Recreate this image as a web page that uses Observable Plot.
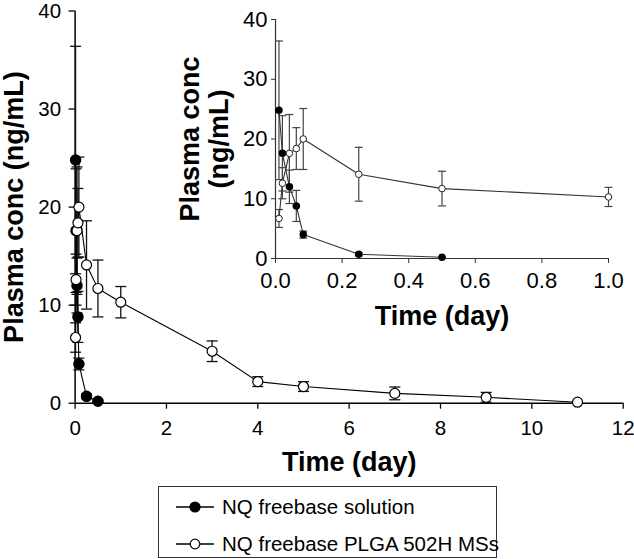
<!DOCTYPE html>
<html>
<head>
<meta charset="utf-8">
<script src="https://cdn.jsdelivr.net/npm/d3@7"></script>
<script src="https://cdn.jsdelivr.net/npm/@observablehq/plot@0.6"></script>
<style>
  body { margin: 0; background: #fff; font-family: "Liberation Sans", Arial, sans-serif; }
  #wrap { position: relative; width: 634px; height: 559px; overflow: hidden; background: #fff; }
  #main { position: absolute; left: 0; top: 0; }
  #inset { position: absolute; left: 180px; top: 0; }
  #legend { position: absolute; left: 158px; top: 486px; width: 339px; height: 72px;
            border: 1.5px solid #333; box-sizing: border-box; }
  .row { position: absolute; left: 0; height: 26px; display: flex; align-items: center;
         font-size: 20.5px; color: #000; white-space: nowrap; }
  .row svg { margin-left: 16px; margin-right: 7px; }
</style>
</head>
<body>
<div id="wrap">
  <div id="main"></div>
  <div id="inset"></div>
  <div id="legend"></div>
</div>
<script>
// ---- data (time in days, concentration in ng/mL, SD) ----
const seriesNames = ["NQ freebase solution", "NQ freebase PLGA 502H MSs"];

const solTime = [0.0104, 0.0208, 0.0417, 0.0625, 0.0833, 0.25, 0.5];
const solConc = [24.8, 17.6, 12.0, 8.8, 4.0, 0.7, 0.2];
const solErr  = [11.6, 6.3, 2.8, 2.6, 0.6, 0.25, 0.1];

const msTime = [0.0104, 0.0208, 0.0417, 0.0625, 0.0833, 0.25, 0.5, 1, 3, 4, 5, 7, 9, 11];
const msConc = [6.7, 12.6, 17.6, 18.4, 20.0, 14.1, 11.7, 10.3, 5.3, 2.2, 1.7, 1.0, 0.6, 0.1];
const msErr  = [1.5, 2.6, 6.5, 3.5, 5.1, 4.5, 2.9, 1.6, 1.05, 0.5, 0.5, 0.65, 0.5, 0];

const mainXTicks = [0, 2, 4, 6, 8, 10, 12];
const yTicks = [0, 10, 20, 30, 40];
const insetXTicks = [0, 0.2, 0.4, 0.6, 0.8, 1.0];
const xLabel = ["Time (day)"];
const yLabelMain = ["Plasma conc (ng/mL)"];
const yLabelInset = ["Plasma conc\n(ng/mL)"];

// ---- build tables ----
const sol = solTime.map((t, i) => ({t, v: solConc[i], e: solErr[i]}));
const ms = msTime.map((t, i) => ({t, v: msConc[i], e: msErr[i]}));
const solIn = sol.filter(d => d.t <= 1);
const msIn = ms.filter(d => d.t <= 1);

const cap = { draw(ctx, size) { const r = Math.sqrt(size / Math.PI); ctx.moveTo(-r, 0); ctx.lineTo(r, 0); } };
const font = "Liberation Sans, Arial, sans-serif";

function errMarks(data, capR, stroke, sw) {
  const d = data.filter(x => x.e > 0);
  return [
    Plot.ruleX(d, {x: "t", y1: x => x.v - x.e, y2: x => x.v + x.e, stroke, strokeWidth: sw}),
    Plot.dot(d, {x: "t", y: x => x.v + x.e, symbol: cap, r: capR, stroke, strokeWidth: sw, fill: "none"}),
    Plot.dot(d, {x: "t", y: x => x.v - x.e, symbol: cap, r: capR, stroke, strokeWidth: sw, fill: "none"})
  ];
}

// ---- main chart ----
const main = Plot.plot({
  width: 634, height: 480,
  marginLeft: 74.6, marginRight: 11.3, marginTop: 10.5, marginBottom: 77.3,
  style: {fontFamily: font, fontSize: "20px", color: "#000", background: "transparent", overflow: "visible"},
  x: {domain: [0, 12]},
  y: {domain: [0, 40]},
  marks: [
    Plot.axisX(mainXTicks, {tickSize: 6, tickPadding: 11, fontSize: 20.5, label: null, stroke: "#000", strokeWidth: 1.3}),
    Plot.axisY(yTicks, {tickSize: 6, tickPadding: 8, fontSize: 20.5, label: null, stroke: "#000", strokeWidth: 1.3}),
    Plot.ruleX([0], {stroke: "#000", strokeWidth: 1.5}),
    Plot.ruleY([0], {stroke: "#000", strokeWidth: 1.5}),
    ...errMarks(ms, 5.5, "#111", 1.3),
    ...errMarks(sol, 5.5, "#111", 1.3),
    Plot.line(ms, {x: "t", y: "v", stroke: "#000", strokeWidth: 1.1}),
    Plot.line(sol, {x: "t", y: "v", stroke: "#000", strokeWidth: 1.1}),
    Plot.dot(sol, {x: "t", y: "v", r: 5, fill: "#000", stroke: "#000"}),
    Plot.dot(ms, {x: "t", y: "v", r: 5, fill: "#fff", stroke: "#000", strokeWidth: 1.2}),
    Plot.text(yLabelMain, {text: d => d, frameAnchor: "left", rotate: -90, dx: -61, lineAnchor: "middle",
      textAnchor: "middle", fontSize: 27, fontWeight: "bold", fill: "#000"}),
    Plot.text(xLabel, {text: d => d, frameAnchor: "bottom", dy: 59.3, lineAnchor: "middle",
      textAnchor: "middle", fontSize: 27, fontWeight: "bold", fill: "#000"})
  ]
});
document.getElementById("main").appendChild(main);

// ---- inset chart ----
const inset = Plot.plot({
  width: 454, height: 340,
  marginLeft: 95, marginRight: 26, marginTop: 19, marginBottom: 82,
  style: {fontFamily: font, fontSize: "22px", color: "#000", background: "transparent", overflow: "visible"},
  x: {domain: [0, 1]},
  y: {domain: [0, 40]},
  marks: [
    Plot.axisX(insetXTicks, {tickSize: 5, tickPadding: 9, fontSize: 22, label: null, tickFormat: d3.format(".1f"), stroke: "#333"}),
    Plot.axisY(yTicks, {tickSize: 4, tickPadding: 4, fontSize: 22, label: null, stroke: "#333"}),
    Plot.ruleX([0], {stroke: "#333", strokeWidth: 1.2}),
    Plot.ruleY([0], {stroke: "#333", strokeWidth: 1.2}),
    ...errMarks(msIn, 4, "#444", 1.2),
    ...errMarks(solIn, 4, "#444", 1.2),
    Plot.line(msIn, {x: "t", y: "v", stroke: "#333", strokeWidth: 1.1}),
    Plot.line(solIn, {x: "t", y: "v", stroke: "#333", strokeWidth: 1.1}),
    Plot.dot(solIn, {x: "t", y: "v", r: 3, fill: "#000", stroke: "#000"}),
    Plot.dot(msIn, {x: "t", y: "v", r: 3.3, fill: "#fff", stroke: "#222", strokeWidth: 1}),
    Plot.text(yLabelInset, {text: d => d, frameAnchor: "left", rotate: -90, dx: -71, lineAnchor: "middle",
      textAnchor: "middle", lineHeight: 1.05, fontSize: 27, fontWeight: "bold", fill: "#000"}),
    Plot.text(xLabel, {text: d => d, frameAnchor: "bottom", dy: 58, lineAnchor: "middle",
      textAnchor: "middle", fontSize: 27, fontWeight: "bold", fill: "#000"})
  ]
});
document.getElementById("inset").appendChild(inset);

// ---- legend ----
const legend = document.getElementById("legend");
const rowTops = [7, 44];
seriesNames.forEach((name, i) => {
  const row = document.createElement("div");
  row.className = "row";
  row.style.top = rowTops[i] + "px";
  const filled = i === 0;
  row.innerHTML = `<svg width="40" height="14" viewBox="0 0 40 14">
      <line x1="1" y1="7" x2="39" y2="7" stroke="#000" stroke-width="1.3"/>
      <circle cx="20" cy="7" r="${filled ? 5 : 4.8}" fill="${filled ? "#000" : "#fff"}" stroke="#000" stroke-width="1.2"/>
    </svg>`;
  const span = document.createElement("span");
  span.textContent = name;
  row.appendChild(span);
  legend.appendChild(row);
});
</script>
</body>
</html>
